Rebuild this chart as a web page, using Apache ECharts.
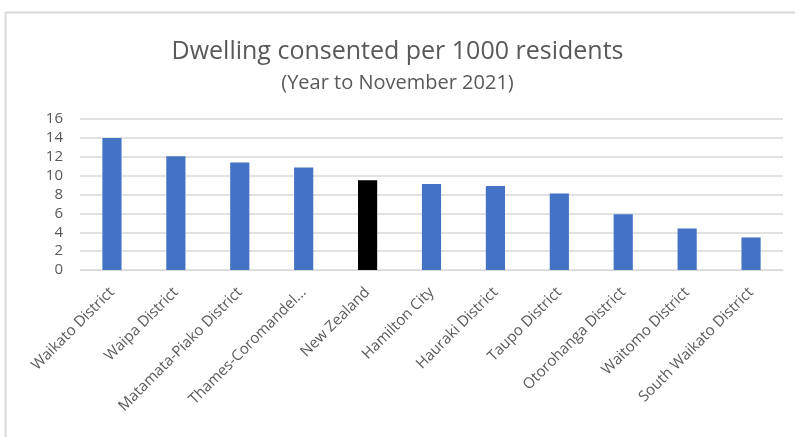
<!DOCTYPE html>
<html><head><meta charset="utf-8">
<script src="https://cdn.jsdelivr.net/npm/echarts@6/dist/echarts.min.js"></script>
<style>html,body{margin:0;padding:0;background:#fff}#c{width:795px;height:437px}</style>
</head><body><div id="c"></div>
<script>
const categories = ["Waikato District","Waipa District","Matamata-Piako District","Thames-Coromandel...","New Zealand","Hamilton City","Hauraki District","Taupo District","Otorohanga District","Waitomo District","South Waikato District"];
const values = [14.0, 12.05, 11.4, 10.85, 9.5, 9.1, 8.9, 8.1, 5.9, 4.4, 3.45];
const highlight = "New Zealand";
const titleText = "Dwelling consented per 1000 residents";
const subtitleText = "(Year to November 2021)";

const chart = echarts.init(document.getElementById('c'));
chart.setOption({
  animation: false,
  backgroundColor: '#fff',
  title: [
    {text: titleText, left: 'center', top: 34,
     textStyle: {fontFamily: 'Open Sans', fontSize: 25, fontWeight: 'normal', color: '#595959'}},
    {text: subtitleText, left: 'center', top: 68,
     textStyle: {fontFamily: 'Open Sans', fontSize: 20, fontWeight: 'normal', color: '#595959'}}
  ],
  graphic: [
    {type: 'line', shape: {x1: 5.5, y1: 12.5, x2: 795, y2: 12.5}, style: {stroke: '#d9d9d9', lineWidth: 2}},
    {type: 'line', shape: {x1: 5.5, y1: 12.5, x2: 5.5, y2: 437}, style: {stroke: '#d9d9d9', lineWidth: 2}}
  ],
  grid: {left: 80, right: 12, top: 119, height: 151},
  xAxis: {
    type: 'category', data: categories,
    axisLine: {lineStyle: {color: '#d9d9d9', width: 1}},
    axisTick: {show: false},
    axisLabel: {rotate: 45, interval: 0, margin: 20, fontFamily: 'Open Sans', fontSize: 15, color: '#595959'}
  },
  yAxis: {
    type: 'value', min: 0, max: 16, interval: 2,
    axisLine: {show: false}, axisTick: {show: false},
    axisLabel: {fontFamily: 'Open Sans', fontSize: 15, color: '#595959', margin: 17},
    splitLine: {lineStyle: {color: '#d9d9d9', width: 1.5}}
  },
  series: [{
    type: 'bar', barWidth: '30%',
    data: values.map((v, i) => ({value: v, itemStyle: {color: categories[i] === highlight ? '#000000' : '#4472c4'}}))
  }]
});
</script></body></html>
